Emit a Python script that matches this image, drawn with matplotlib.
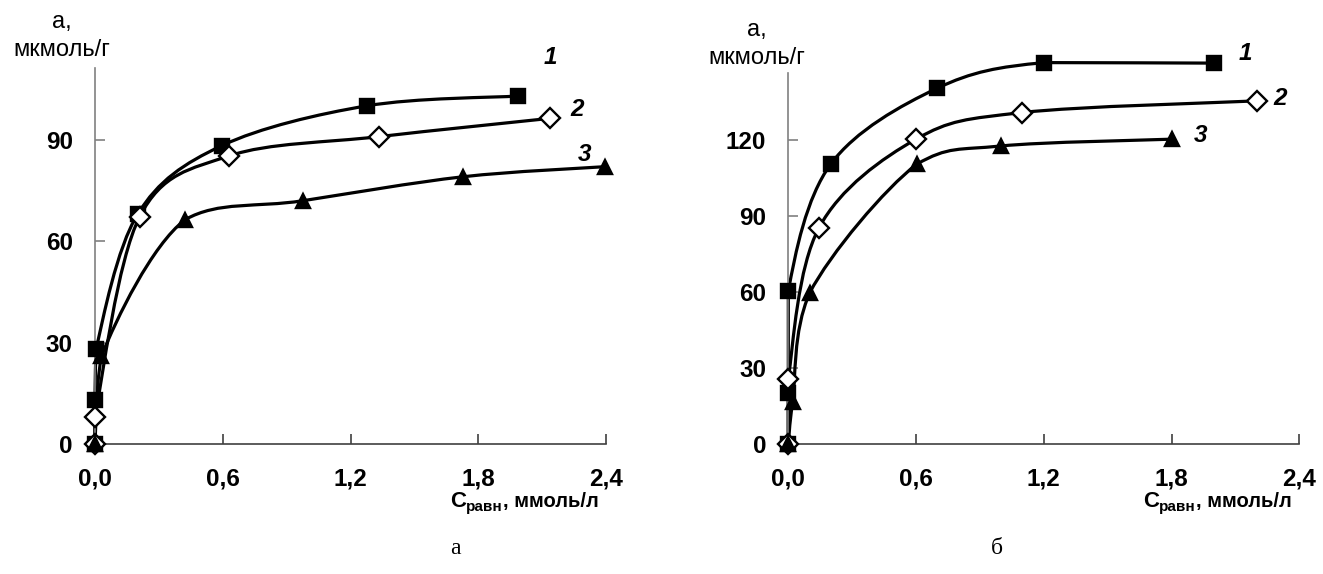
import numpy as np
import matplotlib
matplotlib.use("Agg")
import matplotlib.pyplot as plt
from matplotlib.path import Path
from matplotlib.patches import PathPatch

# ---- data: panel "а" ----
a_x1 = [0.0, 0.0, 0.005, 0.2, 0.595, 1.277, 1.986]
a_y1 = [0.0, 13.0, 28.0, 68.0, 88.3, 100.1, 103.0]
a_x2 = [0.0, 0.0, 0.21, 0.631, 1.336, 2.138]
a_y2 = [0.0, 8.1, 67.3, 85.3, 91.0, 96.4]
a_x3 = [0.0, 0.03, 0.423, 0.975, 1.728, 2.397]
a_y3 = [0.0, 26.0, 66.4, 72.0, 79.1, 82.1]

# ---- data: panel "б" ----
b_x1 = [0.0, 0.0, 0.0, 0.199, 0.697, 1.203, 2.0]
b_y1 = [0.0, 20.2, 60.4, 110.5, 140.4, 150.6, 150.4]
b_x2 = [0.0, 0.0, 0.144, 0.6, 1.099, 2.2]
b_y2 = [0.0, 25.7, 85.4, 120.4, 130.9, 135.5]
b_x3 = [0.0, 0.02, 0.1, 0.603, 0.998, 1.804]
b_y3 = [0.0, 16.5, 59.7, 110.5, 117.7, 120.4]

x_ticks = [0.0, 0.6, 1.2, 1.8, 2.4]
x_ticklabels = ["0,0", "0,6", "1,2", "1,8", "2,4"]
a_yticks = [0, 30, 60, 90]
b_yticks = [0, 30, 60, 90, 120]
series_names = ["1", "2", "3"]

W, H = 1323, 574
fig = plt.figure(figsize=(W / 100, H / 100), dpi=100)
SANS = "Liberation Sans"


def px_rect(x0, y0, x1, y1):
    return [x0 / W, 1 - y0 / H, (x1 - x0) / W, (y0 - y1) / H]


def smooth_curve(ax, xs, ys):
    """Smoothed line through the points: cubic Bezier segments with
    Catmull-Rom tangents, control points kept inside each segment's box."""
    pts = ax.transData.transform(np.column_stack([xs, ys]))
    n = len(pts)
    verts = [pts[0]]
    codes = [Path.MOVETO]
    for i in range(n - 1):
        p0 = pts[i - 1] if i > 0 else pts[i]
        p1 = pts[i]
        p2 = pts[i + 1]
        p3 = pts[i + 2] if i + 2 < n else pts[i + 1]
        c1 = p1 + (p2 - p0) / 6.0
        c2 = p2 - (p3 - p1) / 6.0
        lo = np.minimum(p1, p2)
        hi = np.maximum(p1, p2)
        c1 = np.clip(c1, lo, hi)
        c2 = np.clip(c2, lo, hi)
        verts += [c1, c2, p2]
        codes += [Path.CURVE4] * 3
    verts = ax.transData.inverted().transform(np.array(verts))
    patch = PathPatch(Path(verts, codes), fill=False, edgecolor="black",
                      linewidth=2.3, clip_on=False, zorder=2)
    ax.add_patch(patch)


def draw_series(ax, xs, ys, marker, face, ms):
    smooth_curve(ax, xs, ys)
    ax.plot(xs, ys, linestyle="none", marker=marker, markersize=ms,
            markerfacecolor=face, markeredgecolor="black", markeredgewidth=1.7,
            clip_on=False, zorder=3)


axA = fig.add_axes(px_rect(95, 444, 606, 68))
axB = fig.add_axes(px_rect(788.3, 444.3, 1299.3, 73))
panels = [
    (axA, 111.3, a_yticks, [(a_x1, a_y1), (a_x2, a_y2), (a_x3, a_y3)],
     [(2.138, 114.3), (2.265, 98.9), (2.298, 85.6)]),
    (axB, 146.5, b_yticks, [(b_x1, b_y1), (b_x2, b_y2), (b_x3, b_y3)],
     [(2.145, 154.3), (2.309, 136.6), (1.937, 122.0)]),
]

styles = [("s", "black", 10), ("D", "white", 10.5), ("^", "black", 10.5)]

for ax, ytop, yticks, series, lbl_pos in panels:
    ax.set_xlim(0, 2.4)
    ax.set_ylim(0, ytop)
    for s in ("top", "right"):
        ax.spines[s].set_visible(False)
    ax.spines["left"].set_color("#808080")
    ax.spines["bottom"].set_color("#404040")
    ax.spines["left"].set_linewidth(1.2)
    ax.spines["bottom"].set_linewidth(1.2)
    ax.set_xticks(x_ticks)
    ax.set_xticklabels(x_ticklabels)
    ax.set_yticks(yticks)
    ax.set_yticklabels([str(v) for v in yticks])
    ax.tick_params(axis="x", direction="in", length=7, width=1.2, colors="#404040",
                   labelcolor="black", pad=17)
    ax.tick_params(axis="y", direction="in", length=7, width=1.2, colors="#808080",
                   labelcolor="black", pad=16)
    ax.xaxis.get_major_ticks()[0].tick1line.set_visible(False)
    ax.yaxis.get_major_ticks()[0].tick1line.set_visible(False)
    for lab in ax.get_xticklabels() + ax.get_yticklabels():
        lab.set_fontfamily(SANS)
        lab.set_fontweight("bold")
        lab.set_fontsize(17.5)

    for (xs, ys), (mk, fc, ms) in zip(series, styles):
        draw_series(ax, xs, ys, mk, fc, ms)

    for name, (lx, ly) in zip(series_names, lbl_pos):
        ax.text(lx, ly, name, ha="center", va="center", fontsize=17.5,
                fontweight="bold", fontstyle="italic", fontfamily=SANS,
                clip_on=False)

# y-axis titles
for cx, y1, y2 in [(62, 22, 50), (757, 30, 58)]:
    fig.text(cx / W, 1 - y1 / H, "а,", ha="center", va="center",
             fontsize=17, fontfamily=SANS)
    fig.text(cx / W, 1 - y2 / H, "мкмоль/г", ha="center", va="center",
             fontsize=17, fontfamily=SANS)

# x-axis titles: C with subscript "равн"
fig.canvas.draw()
renderer = fig.canvas.get_renderer()
for x0 in (450, 1143):
    y_base = 1 - 507 / H
    t1 = fig.text(x0 / W, y_base, "C", ha="left", va="baseline", fontsize=16,
                  fontweight="bold", fontfamily=SANS)
    bb = t1.get_window_extent(renderer)
    t2 = fig.text(bb.x1 / W, 1 - 511 / H, "равн", ha="left", va="baseline",
                  fontsize=11, fontweight="bold", fontfamily=SANS)
    bb2 = t2.get_window_extent(renderer)
    fig.text(bb2.x1 / W, y_base, ", ммоль/л", ha="left", va="baseline",
             fontsize=14.5, fontweight="bold", fontfamily=SANS)

# panel captions
fig.text(455 / W, 1 - 548 / H, "а", ha="center", va="center", fontsize=17,
         fontfamily="Liberation Serif")
fig.text(997 / W, 1 - 548 / H, "б", ha="center", va="center", fontsize=17,
         fontfamily="Liberation Serif")

fig.savefig("out.png", dpi=100, facecolor="white")
